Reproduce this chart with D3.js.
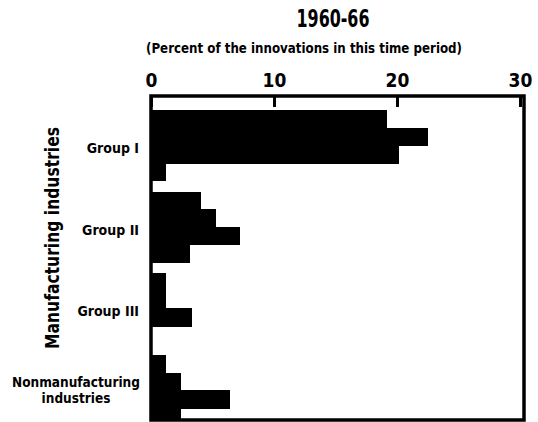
<!DOCTYPE html>
<html>
<head>
<meta charset="utf-8">
<script src="https://cdn.jsdelivr.net/npm/d3@7"></script>
<style>
  html, body { margin: 0; padding: 0; background: #fff; }
  svg { display: block; }
  text { font-family: "Liberation Sans Narrow", "DejaVu Sans Condensed", "Liberation Sans", sans-serif; fill: #000; }
</style>
</head>
<body>
<svg id="chart" width="538" height="422"></svg>
<script>
// Share of innovations, 1960-66, by industry group (four bars per group)
const groups = ["Group I", "Group II", "Group III", "Nonmanufacturing industries"];
const bar1 = [19.2, 4.1, 1.2, 1.2];
const bar2 = [22.5, 5.3, 1.2, 2.4];
const bar3 = [20.2, 7.2, 3.3, 6.4];
const bar4 = [1.2, 3.2, 0, 2.4];
const xTicks = [0, 10, 20, 30];

const title = "1960-66";
const subtitle = "(Percent of the innovations in this time period)";
const sideLabel = "Manufacturing industries";

const svg = d3.select("#chart");

const frame = { left: 151, top: 96, right: 524, bottom: 420 };

const x = d3.scaleLinear().domain([0, 30]).range([151, 520]);

const yGroup = d3.scaleBand()
  .domain(groups)
  .range([110, 425.1])
  .paddingInner(0.143)
  .paddingOuter(0);

const yBar = d3.scaleBand()
  .domain(d3.range(4))
  .range([0, yGroup.bandwidth()])
  .padding(0);

const rows = groups.map((g, i) => ({
  group: g,
  values: [bar1[i], bar2[i], bar3[i], bar4[i]]
}));

// clip bars to the inside of the frame
svg.append("defs").append("clipPath").attr("id", "plotClip")
  .append("rect")
  .attr("x", frame.left).attr("y", frame.top)
  .attr("width", frame.right - frame.left)
  .attr("height", frame.bottom - frame.top);

const barsG = svg.append("g")
  .attr("clip-path", "url(#plotClip)")
  .attr("shape-rendering", "crispEdges");
rows.forEach(r => {
  barsG.selectAll(null)
    .data(r.values)
    .join("rect")
    .attr("x", x(0))
    .attr("y", (d, j) => Math.round(yGroup(r.group) + yBar(j)))
    .attr("width", d => x(d) - x(0))
    .attr("height", (d, j) => Math.round(yGroup(r.group) + yBar(j) + yBar.bandwidth()) - Math.round(yGroup(r.group) + yBar(j)) + 1)
    .attr("fill", "#000");
});

// frame
svg.append("rect")
  .attr("x", frame.left).attr("y", frame.top)
  .attr("width", frame.right - frame.left)
  .attr("height", frame.bottom - frame.top)
  .attr("fill", "none")
  .attr("stroke", "#000")
  .attr("stroke-width", 3.5);

// top axis: labels above the frame, ticks hanging inside it
const axis = d3.axisTop(x)
  .tickValues(xTicks)
  .tickFormat(d3.format("d"))
  .tickSizeInner(-11)
  .tickSizeOuter(0)
  .tickPadding(9);

const axG = svg.append("g")
  .attr("transform", `translate(0,${frame.top})`)
  .call(axis);
axG.select(".domain").remove();
axG.selectAll(".tick line")
  .attr("stroke", "#000")
  .attr("stroke-width", 3);
axG.selectAll(".tick text")
  .attr("font-family", null)
  .style("font-size", "19px")
  .style("font-weight", "bold")
  .attr("fill", "#000");

// titles
svg.append("text")
  .attr("x", 333).attr("y", 27)
  .attr("text-anchor", "middle")
  .style("font-size", "24px")
  .style("font-weight", "bold")
  .attr("textLength", 73)
  .attr("lengthAdjust", "spacingAndGlyphs")
  .text(title);

svg.append("text")
  .attr("x", 304).attr("y", 53)
  .attr("text-anchor", "middle")
  .style("font-size", "14.5px")
  .style("font-weight", "bold")
  .attr("textLength", 316)
  .attr("lengthAdjust", "spacingAndGlyphs")
  .text(subtitle);

// group labels
const labelG = svg.append("g");
rows.slice(0, 3).forEach(r => {
  labelG.append("text")
    .attr("x", 139)
    .attr("y", yGroup(r.group) + yGroup.bandwidth() / 2 + 8)
    .attr("text-anchor", "end")
    .style("font-size", "14px")
    .style("font-weight", "bold")
    .text(r.group);
});

const last = groups[3];
const lastLines = ["Nonmanufacturing", "industries"];
const cy = yGroup(last) + yGroup.bandwidth() / 2;
labelG.append("text")
  .attr("x", 76).attr("y", cy)
  .attr("text-anchor", "middle")
  .style("font-size", "13.5px")
  .style("font-weight", "bold")
  .selectAll("tspan")
  .data(lastLines)
  .join("tspan")
  .attr("x", 76)
  .attr("dy", (d, i) => i === 0 ? "-0.25em" : "1.2em")
  .text(d => d);

// rotated side label spanning the manufacturing groups
svg.append("text")
  .attr("transform", "translate(59,238) rotate(-90)")
  .attr("text-anchor", "middle")
  .style("font-size", "19px")
  .style("font-weight", "bold")
  .attr("textLength", 222)
  .attr("lengthAdjust", "spacingAndGlyphs")
  .text(sideLabel);
</script>
</body>
</html>
